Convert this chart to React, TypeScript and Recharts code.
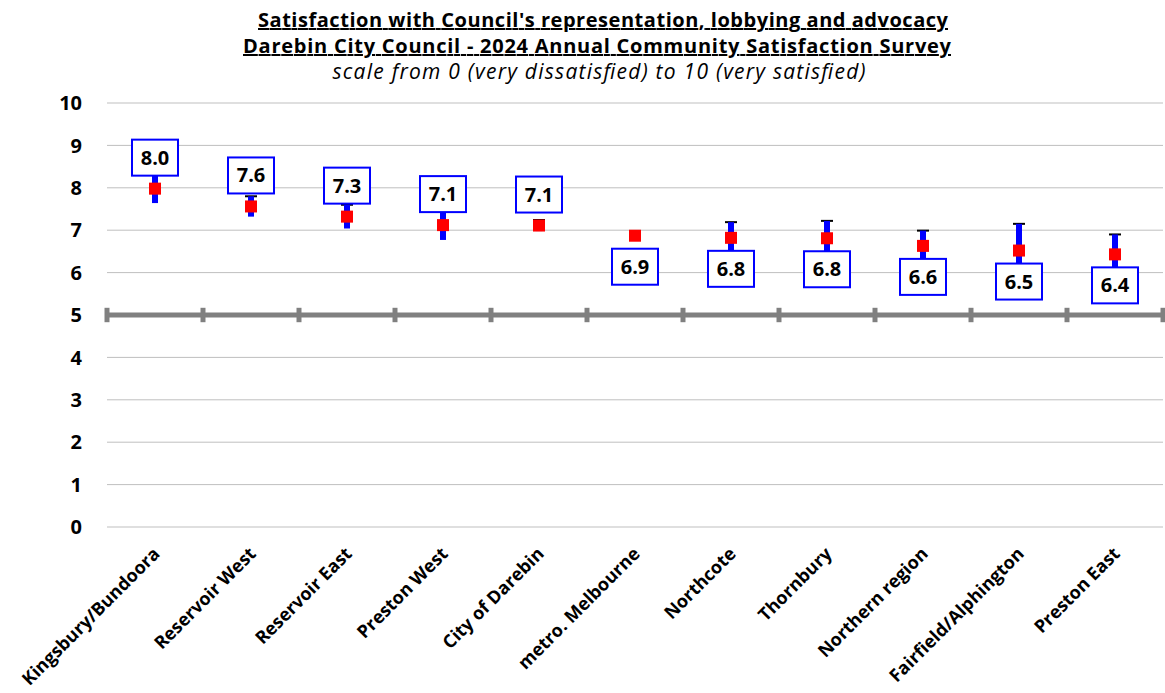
import React from 'react';
import {
  ComposedChart, Line, XAxis, YAxis, CartesianGrid, ErrorBar, LabelList, ReferenceLine,
} from 'recharts';

const categories = [
  'Kingsbury/Bundoora', 'Reservoir West', 'Reservoir East', 'Preston West', 'City of Darebin',
  'metro. Melbourne', 'Northcote', 'Thornbury', 'Northern region', 'Fairfield/Alphington', 'Preston East',
];
const means = [7.98, 7.56, 7.32, 7.12, 7.11, 6.87, 6.82, 6.81, 6.63, 6.52, 6.43];
const errors = [0.34, 0.24, 0.28, 0.35, 0.13, 0.09, 0.37, 0.41, 0.36, 0.63, 0.47];
const yTicks = [0, 1, 2, 3, 4, 5, 6, 7, 8, 9, 10];

const FONT = '"Open Sans", sans-serif';
const ABOVE_COUNT = 5;

const data = categories.map((name, i) => ({
  name,
  mean: means[i],
  err: errors[i],
  cap: [0, errors[i]],
}));

function CategoryTick({ x, y, payload }: any) {
  const ax = x + 6;
  const ay = y + 28;
  return (
    <text x={ax} y={ay} transform={`rotate(-45, ${ax}, ${ay})`} textAnchor="end"
      fontFamily={FONT} fontWeight="bold" fontSize={18} fill="#000">
      {payload.value}
    </text>
  );
}

function RedSquare({ cx, cy, index }: any) {
  return <rect key={index} x={cx - 6} y={cy - 6} width={12} height={12} fill="#FF0000" />;
}

function ValueLabel({ x, y, value, index }: any) {
  const cy = index < ABOVE_COUNT ? y - 31 : y + 31;
  return (
    <g>
      <rect x={x - 23} y={cy - 18} width={46} height={36} fill="#fff" stroke="#0000FF" strokeWidth={2} />
      <text x={x} y={cy} dy={7} textAnchor="middle" fontFamily={FONT} fontWeight="bold" fontSize={20} fill="#000">
        {Number(value).toFixed(1)}
      </text>
    </g>
  );
}

export default function App() {
  return (
    <div style={{ position: 'absolute', left: 0, top: 0, width: 1165, height: 693, background: '#fff' }}>
      <svg width={1165} height={100} style={{ position: 'absolute', left: 0, top: 0 }}>
        <text x={603} y={27} textAnchor="middle" fontFamily={FONT} fontWeight="bold" fontSize={20}
          textLength={690} textDecoration="underline" fill="#000">
          Satisfaction with Council's representation, lobbying and advocacy
        </text>
        <text x={597} y={53} textAnchor="middle" fontFamily={FONT} fontWeight="bold" fontSize={20}
          textLength={708} textDecoration="underline" fill="#000">
          Darebin City Council - 2024 Annual Community Satisfaction Survey
        </text>
        <text x={599} y={79} textAnchor="middle" fontFamily={FONT} fontStyle="italic" fontSize={21}
          textLength={533} fill="#000">
          scale from 0 (very dissatisfied) to 10 (very satisfied)
        </text>
      </svg>
      <ComposedChart width={1165} height={693} data={data}
        margin={{ top: 103, right: 2, left: 0, bottom: 0 }} style={{ position: 'absolute', left: 0, top: 0 }}>
        <CartesianGrid vertical={false} stroke="#BFBFBF" strokeWidth={1} />
        <XAxis dataKey="name" scale="band" interval={0} axisLine={false} tickLine={false} tickSize={0}
          tickMargin={0} height={166} tick={<CategoryTick />} />
        <YAxis domain={[0, 10]} ticks={yTicks} interval={0} axisLine={false} tickLine={false} tickSize={0}
          tickMargin={25} width={107}
          tick={{ fontFamily: FONT, fontWeight: 'bold', fontSize: 20, fill: '#000' }} />
        <ReferenceLine y={5} stroke="#808080" strokeWidth={5} />
        {categories.map(c => (
          <ReferenceLine key={c} stroke="#808080" strokeWidth={5} position="start"
            segment={[{ x: c, y: 4.83 }, { x: c, y: 5.17 }]} />
        ))}
        <ReferenceLine stroke="#808080" strokeWidth={5} position="end"
          segment={[{ x: categories[categories.length - 1], y: 4.83 }, { x: categories[categories.length - 1], y: 5.17 }]} />
        <Line dataKey="mean" stroke="none" dot={false} activeDot={false} isAnimationActive={false}>
          <ErrorBar dataKey="cap" width={6} stroke="#000" strokeWidth={2} />
          <ErrorBar dataKey="err" width={0} stroke="#0000FF" strokeWidth={6} />
        </Line>
        <Line dataKey="mean" stroke="none" dot={<RedSquare />} activeDot={false} isAnimationActive={false}>
          <LabelList dataKey="mean" content={<ValueLabel />} />
        </Line>
      </ComposedChart>
    </div>
  );
}
